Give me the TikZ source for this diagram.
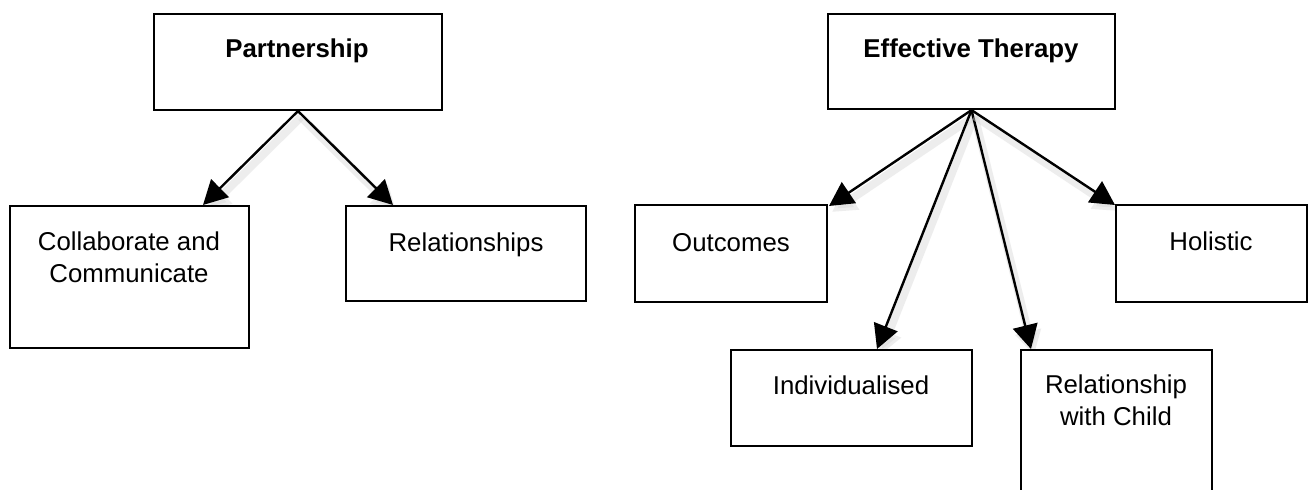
\documentclass[tikz,border=0pt]{standalone}
\usepackage{fontspec}
\setmainfont{Liberation Sans}
\usetikzlibrary{arrows.meta,backgrounds}
\tikzset{
  box/.style={draw=black, line width=1.1pt, rectangle, inner sep=0pt, fill=white},
  lbl/.style={font=\fontsize{12.9}{16}\selectfont, inner sep=0pt, anchor=base, align=center},
  blbl/.style={lbl, font=\fontsize{12.9}{16}\selectfont\bfseries},
  arr/.style={line width=1.2pt, -{Triangle[length=12pt,width=12.5pt]},
    preaction={draw=black!15, line width=4pt, opacity=0.45,
      transform canvas={shift={(1.5pt,-3pt)}}}},
}
\begin{document}
\begin{tikzpicture}[x=0.5pt,y=-0.5pt]
\useasboundingbox (0,0) rectangle (1312,490);
% boxes
\node[box, minimum width=144pt, minimum height=48pt] (part) at (298,62) {};
\node[box, minimum width=143.5pt, minimum height=47.5pt] (eff) at (971.5,61.5) {};
\node[box, minimum width=119.5pt, minimum height=71pt] (coll) at (129.5,277) {};
\node[box, minimum width=120pt, minimum height=47.5pt] (rels) at (466,253.5) {};
\node[box, minimum width=96pt, minimum height=48.5pt] (out) at (731,253.5) {};
\node[box, minimum width=95.5pt, minimum height=48.5pt] (hol) at (1211.5,253.5) {};
\node[box, minimum width=120.5pt, minimum height=48pt] (ind) at (851.5,398) {};
\node[box, minimum width=95.5pt, minimum height=80pt] (rwc) at (1116.5,430) {};
% labels
\node[blbl] (partl) at (297,58) {Partnership};
\node[blbl] (effl) at (971,58) {Effective Therapy};
\node[lbl] (colll) at (129,283) {Collaborate and\\Communicate};
\node[lbl] (relsl) at (466,252) {Relationships};
\node[lbl] (outl) at (731,252) {Outcomes};
\node[lbl] (holl) at (1211,251) {Holistic};
\node[lbl] (indl) at (851,395) {Individualised};
\node[lbl] (rwcl) at (1116,426) {Relationship\\with Child};
% arrow tips
\coordinate (t1) at (203,205);
\coordinate (t2) at (393,205);
\coordinate (t3) at (829,206);
\coordinate (t4) at (877,349);
\coordinate (t5) at (1031,349);
\coordinate (t6) at (1115,205);
\begin{scope}[on background layer]
\fill[white] (0,0) rectangle (1312,490);
\draw[arr] (part.south) -- (t1);
\draw[arr] (part.south) -- (t2);
\draw[arr] (eff.south) -- (t3);
\draw[arr] (eff.south) -- (t4);
\draw[arr] (eff.south) -- (t5);
\draw[arr] (eff.south) -- (t6);
\end{scope}
\end{tikzpicture}
\end{document}
